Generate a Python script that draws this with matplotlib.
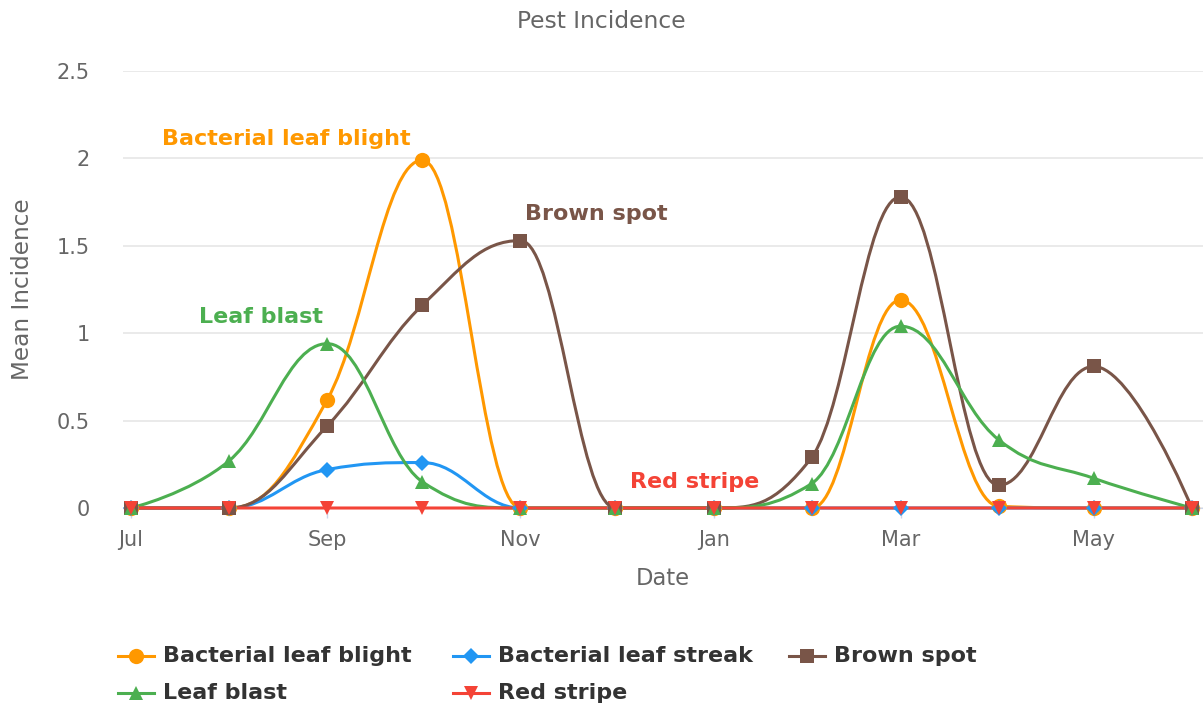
import matplotlib
matplotlib.use("Agg")
import matplotlib.pyplot as plt
import matplotlib.dates as mdates
from matplotlib.path import Path
from matplotlib.patches import PathPatch
from matplotlib.lines import Line2D
import datetime as dt

plt.rcParams['font.family'] = ['DejaVu Sans']

# ---- data ----
dates = ["2022-07-01", "2022-08-01", "2022-09-01", "2022-10-01", "2022-11-01", "2022-12-01",
         "2023-01-01", "2023-02-01", "2023-03-01", "2023-04-01", "2023-05-01", "2023-06-01"]
bacterial_leaf_blight = [0, 0, 0.62, 1.99, 0, 0, 0, 0, 1.19, 0.01, 0, 0]
bacterial_leaf_streak = [0, 0, 0.22, 0.26, 0, 0, 0, 0, 0, 0, 0, 0]
brown_spot = [0, 0, 0.47, 1.16, 1.53, 0, 0, 0.29, 1.78, 0.13, 0.81, 0]
leaf_blast = [0, 0.27, 0.94, 0.15, 0, 0, 0, 0.14, 1.04, 0.39, 0.17, 0]
red_stripe = [0, 0, 0, 0, 0, 0, 0, 0, 0, 0, 0, 0]

series_names = ["Bacterial leaf blight", "Bacterial leaf streak", "Brown spot", "Leaf blast", "Red stripe"]
series_values = [bacterial_leaf_blight, bacterial_leaf_streak, brown_spot, leaf_blast, red_stripe]
colors = ["#FF9800", "#2196F3", "#795548", "#4CAF50", "#F44336"]
markers = ["o", "D", "s", "^", "v"]
marker_sizes = [11, 8, 10.5, 10.5, 10.5]

# series label anchors (date, value)
label_pos = {
    "Bacterial leaf blight": ("2022-08-19", 2.11),
    "Brown spot": ("2022-11-25", 1.68),
    "Leaf blast": ("2022-08-11", 1.09),
    "Red stripe": ("2022-12-26", 0.15),
}

tick_dates = ["2022-07-01", "2022-09-01", "2022-11-01", "2023-01-01", "2023-03-01", "2023-05-01"]
tick_labels = ["Jul", "Sep", "Nov", "Jan", "Mar", "May"]


def to_num(s):
    return mdates.date2num(dt.datetime.strptime(s, "%Y-%m-%d"))


def spline_path(xs, ys, smoothing=1.5):
    """Highcharts-style spline as cubic Bezier path."""
    n = len(xs)
    denom = smoothing + 1
    lc = [None] * n
    rc = [None] * n
    for i in range(1, n - 1):
        px, py = xs[i], ys[i]
        lx, ly = xs[i - 1], ys[i - 1]
        nx, ny = xs[i + 1], ys[i + 1]
        lcx = (smoothing * px + lx) / denom
        lcy = (smoothing * py + ly) / denom
        rcx = (smoothing * px + nx) / denom
        rcy = (smoothing * py + ny) / denom
        corr = ((rcy - lcy) * (rcx - px)) / (rcx - lcx) + py - rcy
        lcy += corr
        rcy += corr
        if lcy > ly and lcy > py:
            lcy = max(ly, py)
            rcy = 2 * py - lcy
        elif lcy < ly and lcy < py:
            lcy = min(ly, py)
            rcy = 2 * py - lcy
        if rcy > ny and rcy > py:
            rcy = max(ny, py)
            lcy = 2 * py - rcy
        elif rcy < ny and rcy < py:
            rcy = min(ny, py)
            lcy = 2 * py - rcy
        lc[i] = (lcx, lcy)
        rc[i] = (rcx, rcy)
    verts = [(xs[0], ys[0])]
    codes = [Path.MOVETO]
    for i in range(1, n):
        c1 = rc[i - 1] if rc[i - 1] is not None else (xs[i - 1], ys[i - 1])
        c2 = lc[i] if lc[i] is not None else (xs[i], ys[i])
        verts += [c1, c2, (xs[i], ys[i])]
        codes += [Path.CURVE4] * 3
    return Path(verts, codes)


W, H = 1203, 709
fig = plt.figure(figsize=(W / 100, H / 100), dpi=100)
ax = fig.add_axes([123 / W, 1 - 508 / H, 1 - 123 / W, (508 - 71) / H])

xnum = [to_num(d) for d in dates]

for name, vals, c, m, ms in zip(series_names, series_values, colors, markers, marker_sizes):
    path = spline_path(xnum, vals)
    patch = PathPatch(path, facecolor="none", edgecolor=c, lw=2.2, clip_on=False, zorder=3)
    ax.add_patch(patch)
    ax.plot(xnum, vals, linestyle="none", marker=m, color=c, markersize=ms,
            markeredgewidth=0, clip_on=False, zorder=4)

for name, c in zip(series_names, colors):
    if name in label_pos:
        d, v = label_pos[name]
        ax.text(to_num(d), v, name, color=c, fontsize=16, fontweight="bold",
                ha="center", va="center", zorder=5)

ax.set_xlim(to_num("2022-07-01") - 2.5, to_num("2023-06-01") + 3.5)
ax.set_ylim(0, 2.5)
ax.set_yticks([0, 0.5, 1, 1.5, 2, 2.5])
ax.set_yticklabels(["0", "0.5", "1", "1.5", "2", "2.5"])
ax.set_xticks([to_num(d) for d in tick_dates])
ax.set_xticklabels(tick_labels)

ax.grid(axis="y", color="#e6e6e6", lw=1.2)
ax.set_axisbelow(True)
for s in ["top", "right", "left"]:
    ax.spines[s].set_visible(False)
ax.spines["bottom"].set_color("#ccd6eb")
ax.tick_params(axis="y", length=0, pad=24, labelsize=15, labelcolor="#666666")
ax.tick_params(axis="x", length=7, width=1, color="#ccd6eb", pad=9, labelsize=15, labelcolor="#666666")

ax.set_xlabel("Date", fontsize=16.3, color="#666666", labelpad=12)
ax.set_ylabel("Mean Incidence", fontsize=16.7, color="#666666", labelpad=16)
fig.text(0.5, 1 - 22 / H, "Pest Incidence", ha="center", va="center", fontsize=16.8, color="#666666")

# legend (manual)
legend_items = [
    (0, 118, 656), (1, 453, 656), (2, 789, 656),
    (3, 118, 693), (4, 453, 693),
]
for idx, lx, ly in legend_items:
    yf = 1 - ly / H
    fig.add_artist(Line2D([lx / W, (lx + 36) / W], [yf, yf], color=colors[idx], lw=2.2,
                          transform=fig.transFigure))
    fig.add_artist(Line2D([(lx + 18) / W], [yf], color=colors[idx], marker=markers[idx],
                          markersize=marker_sizes[idx], markeredgewidth=0, linestyle="none",
                          transform=fig.transFigure))
    fig.text((lx + 45) / W, yf, series_names[idx], fontsize=16, fontweight="bold",
             color="#333333", ha="left", va="center")

fig.savefig("out.png", dpi=100)
